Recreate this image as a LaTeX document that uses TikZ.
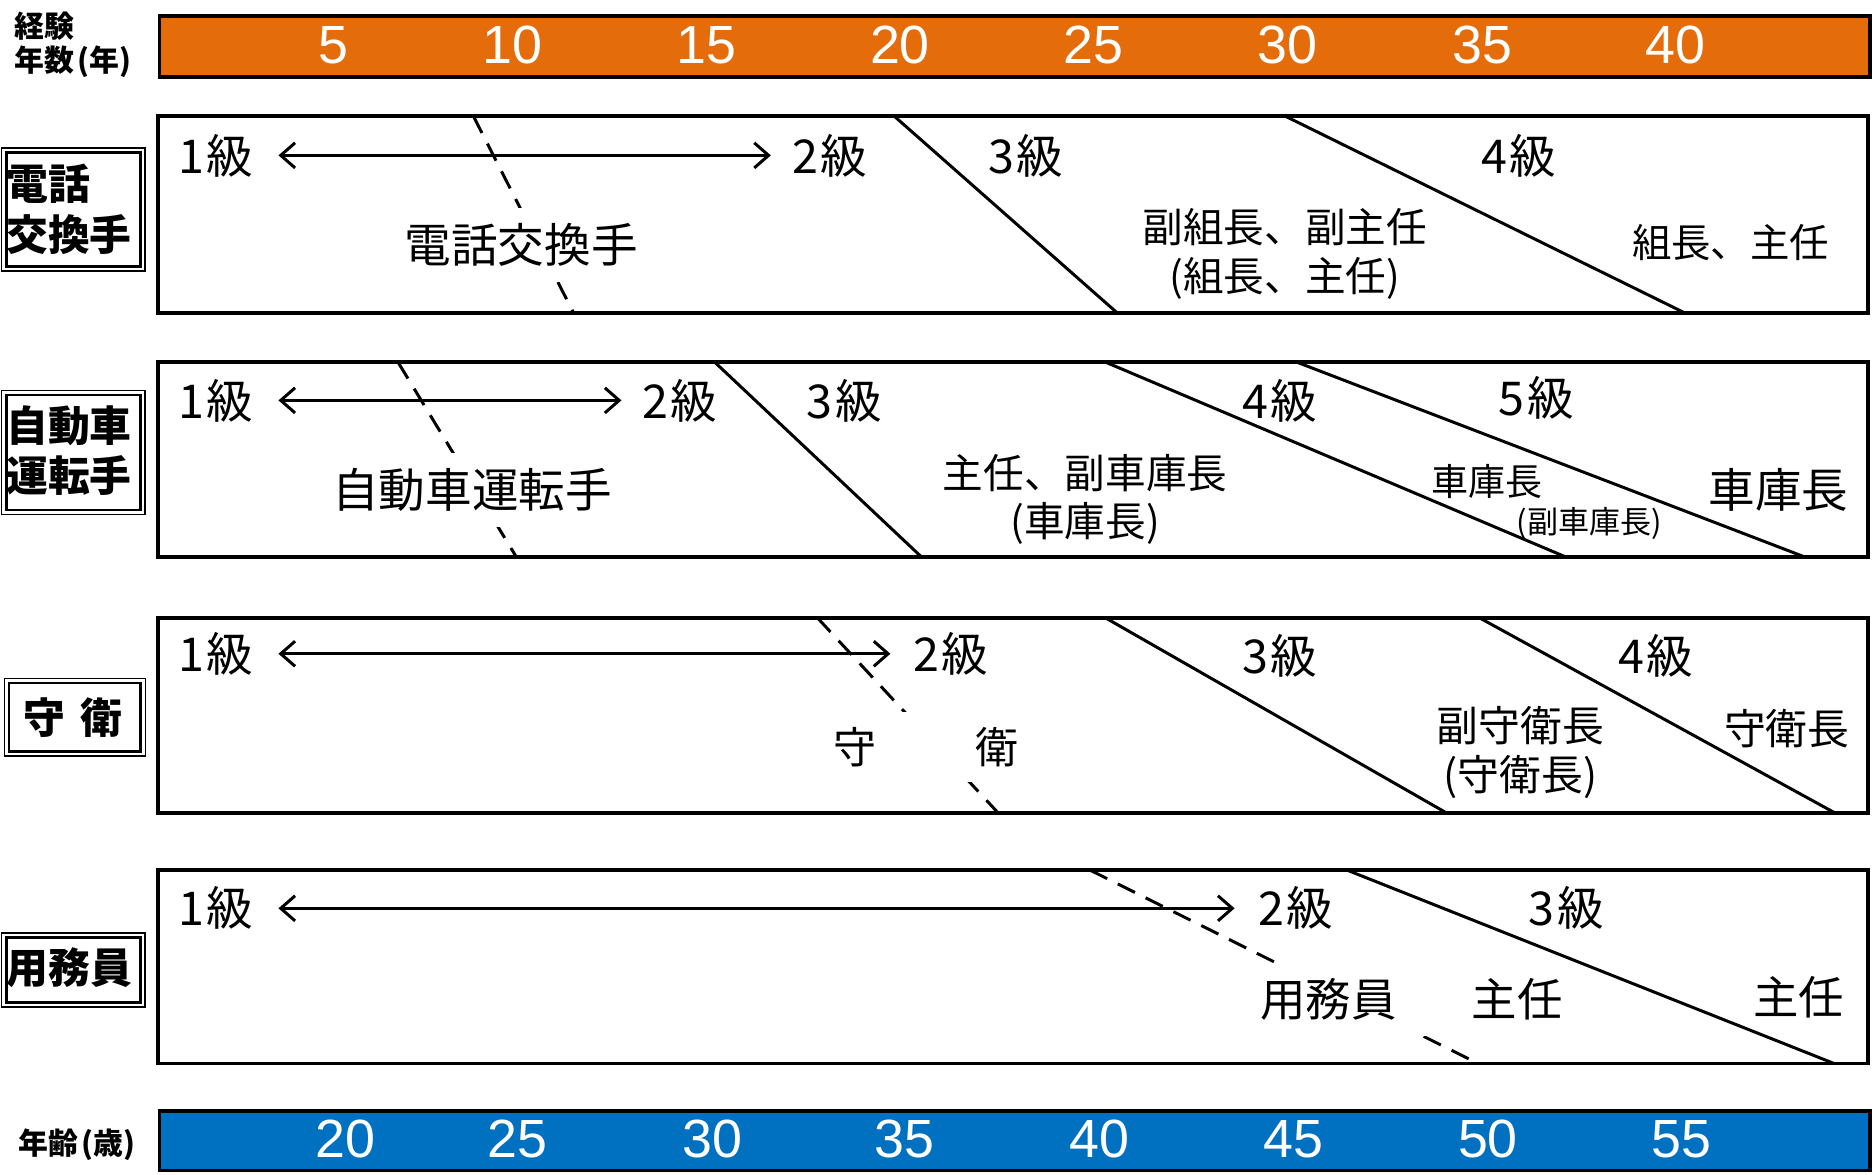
\documentclass[tikz,border=0pt]{standalone}
\usepackage{fontspec}
\setmainfont{Noto Sans CJK JP}
\newfontfamily\numfont{Liberation Sans}
\usetikzlibrary{arrows.meta}
\definecolor{barorange}{HTML}{E46C0A}
\definecolor{barblue}{HTML}{0070C0}
\begin{document}
\begin{tikzpicture}[x=1pt,y=-1pt,
  rowframe/.style={line width=3pt, line join=miter},
  divline/.style={line width=2.5pt},
  dline/.style={line width=2.5pt, dash pattern=on 16pt off 10pt},
  garrow/.style={line width=2.5pt, {Straight Barb[length=12pt,width=21pt]}-{Straight Barb[length=12pt,width=21pt]}},
  grade/.style={anchor=west, inner sep=0pt, font=\fontsize{39}{40}\selectfont},
  txt/.style={inner sep=0pt, font=\fontsize{#1}{#1}\selectfont},
  mask/.style={fill=white, inner xsep=3pt, inner ysep=13pt, font=\fontsize{#1}{#1}\selectfont},
  lblbox/.style={draw, line width=1.3pt, anchor=north west, inner sep=0pt},
  lbltxt/.style={inner sep=0pt, font=\bfseries\fontsize{35}{36}\selectfont},
  axlbl/.style={anchor=west, inner sep=0pt, font=\bfseries\fontsize{25}{26}\selectfont},
  num/.style={text=white, inner sep=0pt, font=\numfont\fontsize{45}{45}\selectfont},
  bar/.style={draw, line width=3pt, anchor=north west, inner sep=0pt, minimum width=1431pt, minimum height=51pt},
]
\useasboundingbox (0,0) rectangle (1568,983);

% ---------- experience axis ----------
\node[bar, fill=barorange] (obar) at (132,12) {};
\node[axlbl] (exp1) at (12,22) {経験};
\node[axlbl] (exp2) at (12,52) {年数\kern3pt(年)};
\node[num] (o5)  at (279,38) {5};
\node[num] (o10) at (429,38) {10};
\node[num] (o15) at (591,38) {15};
\node[num] (o20) at (753,38) {20};
\node[num] (o25) at (915,38) {25};
\node[num] (o30) at (1077,38) {30};
\node[num] (o35) at (1240,38) {35};
\node[num] (o40) at (1402,38) {40};

% ---------- age axis ----------
\node[bar, fill=barblue, minimum height=50pt] (bbar) at (132,928) {};
\node[axlbl] (age) at (15,958) {年齢\kern3pt(歳)};
\node[num] (b20) at (289,953) {20};
\node[num] (b25) at (433,953) {25};
\node[num] (b30) at (596,953) {30};
\node[num] (b35) at (757,953) {35};
\node[num] (b40) at (920,953) {40};
\node[num] (b45) at (1082,953) {45};
\node[num] (b50) at (1245,953) {50};
\node[num] (b55) at (1407,953) {55};

% ---------- left labels ----------
\node[lblbox, minimum width=120pt, minimum height=103pt] (L1) at (0.7,123) {};
\draw[line width=2.2pt] ([shift={(4.5,4.5)}]L1.north west) rectangle ([shift={(-4.5,-4.5)}]L1.south east);
\node[lbltxt, anchor=west] (L1a) at (5,154) {電話};
\node[lbltxt, anchor=west] (L1b) at (5,196) {交換手};

\node[lblbox, minimum width=120pt, minimum height=104pt] (L2) at (0.7,326) {};
\draw[line width=2.2pt] ([shift={(4.5,4.5)}]L2.north west) rectangle ([shift={(-4.5,-4.5)}]L2.south east);
\node[lbltxt, anchor=west] (L2a) at (5,356) {自動車};
\node[lbltxt, anchor=west] (L2b) at (5,398) {運転手};

\node[lblbox, minimum width=118pt, minimum height=65pt] (L3) at (3,567) {};
\draw[line width=2.2pt] ([shift={(4.5,4.5)}]L3.north west) rectangle ([shift={(-4.5,-4.5)}]L3.south east);
\node[lbltxt] (L3a) at (61,600) {守\hspace{12pt}衛};

\node[lblbox, minimum width=120pt, minimum height=62pt] (L4) at (0.7,780) {};
\draw[line width=2.2pt] ([shift={(4.5,4.5)}]L4.north west) rectangle ([shift={(-4.5,-4.5)}]L4.south east);
\node[lbltxt] (L4a) at (58,810) {用務員};

% ---------- row 1: telephone operator ----------
\coordinate (r1d1t) at (396,97);  \coordinate (r1d1b) at (480,262);
\coordinate (r1s1t) at (748,97);  \coordinate (r1s1b) at (935,262);
\coordinate (r1s2t) at (1075,97); \coordinate (r1s2b) at (1410,262);
\draw[dline] (r1d1t) -- (r1d1b);
\draw[divline] (r1s1t) -- (r1s1b);
\draw[divline] (r1s2t) -- (r1s2b);
\coordinate (r1aL) at (233,130); \coordinate (r1aR) at (645,130);
\draw[garrow] (r1aL) -- (r1aR);
\node[grade] (r1g1) at (149,130) {1\kern2pt級};
\node[grade] (r1g2) at (663,130) {2\kern2pt級};
\node[grade] (r1g3) at (827,130) {3\kern2pt級};
\node[grade] (r1g4) at (1239,130) {4\kern2pt級};
\node[mask=39] (r1job) at (436,205) {電話交換手};
\node[txt=34] (r1p1) at (1075,190) {副組長、副主任};
\node[txt=34] (r1p2) at (1075,233) {(組長、主任)};
\node[txt=33] (r1p3) at (1448,203) {組長、主任};
\draw[rowframe] (132,97) rectangle (1563,262);

% ---------- row 2: driver ----------
\coordinate (r2d1t) at (333,303);  \coordinate (r2d1b) at (432,466);
\coordinate (r2s1t) at (598,303);  \coordinate (r2s1b) at (771,466);
\coordinate (r2s2t) at (925,303);  \coordinate (r2s2b) at (1310,466);
\coordinate (r2s3t) at (1085,303); \coordinate (r2s3b) at (1510,466);
\draw[dline] (r2d1t) -- (r2d1b);
\draw[divline] (r2s1t) -- (r2s1b);
\draw[divline] (r2s2t) -- (r2s2b);
\draw[divline] (r2s3t) -- (r2s3b);
\coordinate (r2aL) at (233,335); \coordinate (r2aR) at (520,335);
\draw[garrow] (r2aL) -- (r2aR);
\node[grade] (r2g1) at (149,335) {1\kern2pt級};
\node[grade] (r2g2) at (537,335) {2\kern2pt級};
\node[grade] (r2g3) at (675,335) {3\kern2pt級};
\node[grade] (r2g4) at (1039,335) {4\kern2pt級};
\node[grade] (r2g5) at (1254,333) {5\kern2pt級};
\node[mask=39] (r2job) at (395,410) {自動車運転手};
\node[txt=34] (r2p1) at (908,396) {主任、副車庫長};
\node[txt=34] (r2p2) at (908,438) {(車庫長)};
\node[txt=31] (r2p3) at (1244,403) {車庫長};
\node[txt=26] (r2p4) at (1330,438) {(副車庫長)};
\node[txt=39] (r2p5) at (1488,410) {車庫長};
\draw[rowframe] (132,303) rectangle (1563,466);

% ---------- row 3: guard ----------
\coordinate (r3d1t) at (684,517);  \coordinate (r3d1b) at (835,680);
\coordinate (r3s1t) at (925,517);  \coordinate (r3s1b) at (1210,680);
\coordinate (r3s2t) at (1238,517); \coordinate (r3s2b) at (1535,680);
\draw[dline] (r3d1t) -- (r3d1b);
\draw[divline] (r3s1t) -- (r3s1b);
\draw[divline] (r3s2t) -- (r3s2b);
\coordinate (r3aL) at (233,547); \coordinate (r3aR) at (745,547);
\draw[garrow] (r3aL) -- (r3aR);
\node[grade] (r3g1) at (149,547) {1\kern2pt級};
\node[grade] (r3g2) at (764,547) {2\kern2pt級};
\node[grade] (r3g3) at (1039,549) {3\kern2pt級};
\node[grade] (r3g4) at (1354,549) {4\kern2pt級};
\node[mask=36] (r3job) at (775,625) {守\hspace{83pt}衛};
\node[txt=35] (r3p1) at (1272,607) {副守衛長};
\node[txt=35] (r3p2) at (1272,650) {(守衛長)};
\node[txt=35] (r3p3) at (1495,610) {守衛長};
\draw[rowframe] (132,517) rectangle (1563,680);

% ---------- row 4: janitor ----------
\coordinate (r4d1t) at (912,728);  \coordinate (r4d1b) at (1237,890);
\coordinate (r4s1t) at (1127,728); \coordinate (r4s1b) at (1535,890);
\draw[dline] (r4d1t) -- (r4d1b);
\draw[divline] (r4s1t) -- (r4s1b);
\coordinate (r4aL) at (233,760); \coordinate (r4aR) at (1033,760);
\draw[garrow] (r4aL) -- (r4aR);
\node[grade] (r4g1) at (149,760) {1\kern2pt級};
\node[grade] (r4g2) at (1053,760) {2\kern2pt級};
\node[grade] (r4g3) at (1279,760) {3\kern2pt級};
\node[mask=38] (r4job) at (1181,836) {用務員\hspace{63pt}主任};
\node[txt=38] (r4p1) at (1505,834) {主任};
\draw[rowframe] (132,728) rectangle (1563,890);
\end{tikzpicture}
\end{document}
